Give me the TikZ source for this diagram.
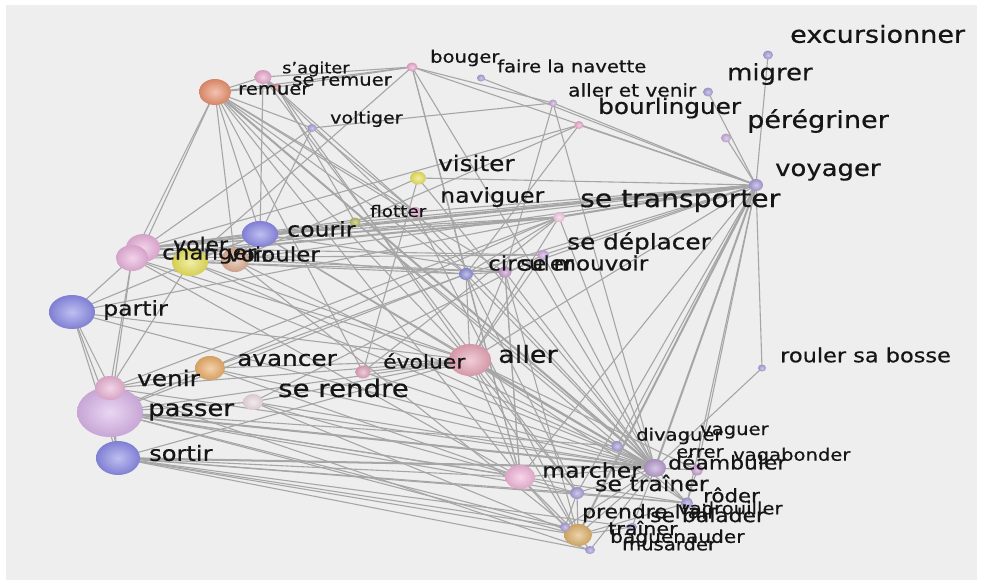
\documentclass[tikz,border=0pt]{standalone}
\usepackage{fontspec}
\setmainfont{DejaVu Sans}[FakeStretch=1.15,FakeBold=0.6]
\usetikzlibrary{shapes.geometric}
\pgfdeclarelayer{bg}
\pgfdeclarelayer{edges}
\pgfsetlayers{bg,edges,main}
\definecolor{bgc}{HTML}{EEEEEE}
\definecolor{edgec}{HTML}{A6A6A6}
\definecolor{txt}{HTML}{151515}
\definecolor{blue}{HTML}{8A8AE6}
\definecolor{lav}{HTML}{D8B4E8}
\definecolor{pinkv}{HTML}{E8B2D4}
\definecolor{orng}{HTML}{E8AC68}
\definecolor{pale}{HTML}{EADADF}
\definecolor{pinke}{HTML}{E0A4BC}
\definecolor{pinka}{HTML}{E6A4B6}
\definecolor{pinkm}{HTML}{F0B4D8}
\definecolor{purp}{HTML}{A89CD6}
\definecolor{hubc}{HTML}{B49ACB}
\definecolor{purpp}{HTML}{C49ACB}
\definecolor{ochre}{HTML}{DCB06A}
\definecolor{salmon}{HTML}{E8906E}
\definecolor{pinks}{HTML}{E8A6CC}
\definecolor{pinkr}{HTML}{D88888}
\definecolor{lilac}{HTML}{C8A8D8}
\definecolor{yell}{HTML}{E6E05A}
\definecolor{olive}{HTML}{B8B860}
\definecolor{pinkc}{HTML}{E8B0DA}
\definecolor{tan}{HTML}{DCAE92}
\definecolor{palepink}{HTML}{F0C8E0}
\definecolor{bluep}{HTML}{8E8ED8}
\tikzset{
  sph/.style n args={3}{ellipse, minimum width=#2pt, minimum height=#3pt, inner sep=0pt, draw=none,
     inner color=#1!55!white, outer color=#1!92!black},
  lbl/.style={anchor=west, inner sep=0pt, text=txt, font=\fontsize{#1}{#1}\selectfont},
  edge/.style={draw=edgec, line width=1.1pt},
  thedge/.style={draw=edgec, line width=2pt},
}
\begin{document}
\begin{tikzpicture}[x=1pt,y=-1pt]
\begin{pgfonlayer}{bg}
\fill[white] (0,0) rectangle (982,584);
\fill[bgc] (6,5) rectangle (977,580);
\end{pgfonlayer}
\useasboundingbox (0,0) rectangle (982,584);
% ---------- spheres ----------
\node[sph={blue}{46}{34}] (partir) at (72,312) {};
\node[sph={lav}{66}{50}] (passer) at (110,412) {};
\node[sph={pinkv}{30}{24}] (venir) at (110,388) {};
\node[sph={blue}{44}{34}] (sortir) at (118,458) {};
\node[sph={orng}{30}{24}] (avancer) at (210,368) {};
\node[sph={pale}{20}{16}] (rendre) at (253,402) {};
\node[sph={pinke}{15}{13}] (evoluer) at (363,372) {};
\node[sph={pinka}{42}{32}] (aller) at (470,360) {};
\node[sph={pinkm}{30}{24}] (marcher) at (520,477) {};
\node[sph={purp}{14}{12}] (trainerse) at (577,493) {};
\node[sph={purp}{12}{10}] (divaguer) at (617,446) {};
\node[sph={hubc}{22}{18}] (hub) at (655,468) {};
\node[sph={purpp}{12}{11}] (errer) at (697,470) {};
\node[sph={purp}{12}{11}] (roder) at (687,503) {};
\node[sph={ochre}{28}{22}] (ochre) at (578,535) {};
\node[sph={purp}{10}{9}] (psm) at (565,527) {};
\node[sph={purp}{10}{8}] (qsm) at (590,550) {};
\node[sph={purp}{10}{8}] (rsm) at (632,527) {};
\node[sph={salmon}{32}{26}] (remuer) at (215,92) {};
\node[sph={pinks}{17}{14}] (agiter) at (263,77) {};
\node[sph={pinkr}{8}{7}] (sremuer) at (277,87) {};
\node[sph={purp}{9}{8}] (voltiger) at (312,128) {};
\node[sph={pinks}{11}{9}] (bouger) at (412,67) {};
\node[sph={purp}{8}{7}] (navette) at (481,78) {};
\node[sph={lilac}{8}{7}] (allerv) at (553,103) {};
\node[sph={pinks}{9}{8}] (bourl) at (579,125) {};
\node[sph={purp}{10}{9}] (excur) at (768,55) {};
\node[sph={purp}{10}{9}] (migrer) at (708,92) {};
\node[sph={lilac}{10}{9}] (pereg) at (726,138) {};
\node[sph={purp}{14}{12}] (voyager) at (756,185) {};
\node[sph={yell}{16}{13}] (visiter) at (418,178) {};
\node[sph={pinks}{12}{10}] (navig) at (415,212) {};
\node[sph={olive}{11}{9}] (flotter) at (355,222) {};
\node[sph={blue}{36}{26}] (courir) at (260,234) {};
\node[sph={pinkc}{34}{28}] (voler) at (143,248) {};
\node[sph={pinkc}{32}{26}] (changer) at (132,258) {};
\node[sph={yell}{36}{28}] (voir) at (190,262) {};
\node[sph={tan}{28}{24}] (rouler) at (235,260) {};
\node[sph={palepink}{12}{10}] (transp) at (559,217) {};
\node[sph={lilac}{12}{10}] (deplacer) at (543,255) {};
\node[sph={bluep}{14}{12}] (circuler) at (466,274) {};
\node[sph={purpp}{13}{11}] (mouvoir) at (505,272) {};
\node[sph={purp}{8}{7}] (bosse) at (762,368) {};
% ---------- edges ----------
\begin{pgfonlayer}{edges}
\foreach \a/\b in {
 partir/passer, partir/venir, partir/sortir, partir/changer, partir/courir, partir/aller, partir/transp, partir/hub,
 passer/venir, passer/sortir, passer/changer, passer/avancer, passer/rendre, passer/aller, passer/hub, passer/marcher,
 passer/ochre, passer/trainerse, passer/circuler, passer/psm, passer/roder,
 venir/sortir, venir/changer, venir/avancer, venir/aller, venir/hub, venir/transp, venir/voir, venir/qsm,
 sortir/hub, sortir/marcher, sortir/ochre, sortir/trainerse, sortir/psm, sortir/roder, sortir/aller, sortir/qsm, sortir/rsm,
 avancer/hub, avancer/aller, avancer/transp, avancer/circuler, avancer/marcher,
 rendre/hub, rendre/aller, rendre/deplacer, rendre/marcher, rendre/ochre,
 evoluer/aller, evoluer/visiter, evoluer/hub, evoluer/transp, evoluer/remuer,
 aller/hub, aller/marcher, aller/trainerse, aller/ochre, aller/transp, aller/deplacer, aller/circuler,
 aller/mouvoir, aller/courir, aller/voir, aller/remuer, aller/voyager, aller/divaguer, aller/errer, aller/roder,
 marcher/hub, marcher/circuler, marcher/mouvoir, marcher/trainerse, marcher/ochre, marcher/psm,
 changer/remuer, voler/remuer, voler/transp, changer/voyager, voler/circuler, changer/hub, changer/aller,
 voler/bourl, voler/voltiger, voler/deplacer, changer/marcher,
 voir/courir, voir/rouler, voir/circuler, voir/hub, voir/mouvoir,
 rouler/courir, rouler/remuer, rouler/hub, rouler/voyager, rouler/mouvoir, rouler/ochre,
 courir/voyager, courir/voltiger, courir/transp, courir/hub, courir/mouvoir, courir/remuer,
 remuer/agiter, remuer/sremuer, remuer/bouger, remuer/voltiger, remuer/circuler, remuer/hub, remuer/mouvoir,
 remuer/navig, remuer/marcher,
 agiter/bouger, agiter/sremuer, agiter/navig, agiter/courir, agiter/circuler, agiter/trainerse,
 sremuer/bouger, sremuer/aller, sremuer/flotter,
 voltiger/allerv, voltiger/navig,
 bouger/allerv, bouger/voyager, bouger/circuler, bouger/marcher, bouger/voir, bouger/hub,
 navette/voyager, allerv/hub, allerv/mouvoir, allerv/voyager,
 bourl/flotter, bourl/voyager, bourl/circuler,
 visiter/rouler, visiter/voyager, visiter/hub,
 navig/voyager, navig/hub, navig/voler, navig/ochre,
 flotter/voyager, flotter/voler, flotter/hub, flotter/roder,
 transp/voyager, transp/hub, transp/voler, transp/circuler,
 deplacer/voyager, deplacer/hub, deplacer/changer,
 circuler/mouvoir, circuler/voyager, circuler/hub, circuler/trainerse,
 mouvoir/voyager, mouvoir/hub, mouvoir/ochre, mouvoir/marcher,
 voyager/excur, voyager/migrer, voyager/pereg, voyager/roder, voyager/errer,
 voyager/trainerse, voyager/bosse, voyager/marcher,
 bosse/hub, divaguer/hub, divaguer/voyager, divaguer/passer,
 hub/errer, hub/roder, hub/ochre, hub/psm, hub/qsm, hub/rsm, hub/trainerse, hub/divaguer,
 trainerse/ochre, trainerse/roder, trainerse/psm, ochre/psm, ochre/qsm, ochre/rsm, ochre/roder, errer/roder}
 \draw[edge] (\a.center) -- (\b.center);
\foreach \a/\b in {voyager/hub, voyager/ochre, aller/hub, passer/hub, sortir/hub, voler/voyager, changer/transp, remuer/hub, transp/voyager}
 \draw[thedge] (\a.center) -- (\b.center);
\end{pgfonlayer}
% ---------- labels ----------
\node[lbl=23.5] (t-excur) at (790,34) {excursionner};
\node[lbl=22.5] (t-migrer) at (727,74) {migrer};
\node[lbl=21.5] (t-bourl) at (598,108) {bourlinguer};
\node[lbl=17.5] (t-allerv) at (568,90) {aller et venir};
\node[lbl=17] (t-navette) at (497,66) {faire la navette};
\node[lbl=17] (t-bouger) at (430,58) {bouger};
\node[lbl=15.5] (t-agiter) at (282,69) {s'agiter};
\node[lbl=17] (t-sremuer) at (292,81) {se remuer};
\node[lbl=17] (t-remuer) at (238,90) {remuer};
\node[lbl=16.5] (t-voltiger) at (330,119) {voltiger};
\node[lbl=23.5] (t-pereg) at (747,121) {pérégriner};
\node[lbl=22.5] (t-voyager) at (775,172) {voyager};
\node[lbl=21.5] (t-visiter) at (438,163) {visiter};
\node[lbl=20.5] (t-navig) at (440,197) {naviguer};
\node[lbl=24.5] (t-transp) at (580,201) {se transporter};
\node[lbl=16] (t-flotter) at (370,211) {flotter};
\node[lbl=20.5] (t-courir) at (287,229) {courir};
\node[lbl=21.5] (t-deplacer) at (567,243) {se déplacer};
\node[lbl=19] (t-voler) at (173,244) {voler};
\node[lbl=20] (t-changer) at (162,254) {changer};
\node[lbl=20] (t-voir) at (227,254) {voir};
\node[lbl=20] (t-rouler) at (252,254) {rouler};
\node[lbl=20] (t-circuler) at (488,263) {circuler};
\node[lbl=20] (t-mouvoir) at (520,263) {se mouvoir};
\node[lbl=20.5] (t-partir) at (103,310) {partir};
\node[lbl=21.5] (t-avancer) at (237,360) {avancer};
\node[lbl=19] (t-evoluer) at (383,361) {évoluer};
\node[lbl=23.5] (t-aller) at (498,354) {aller};
\node[lbl=19.5] (t-bosse) at (780,355) {rouler sa bosse};
\node[lbl=21.5] (t-venir) at (137,378) {venir};
\node[lbl=24] (t-rendre) at (278,388) {se rendre};
\node[lbl=22.5] (t-passer) at (148,412) {passer};
\node[lbl=21] (t-sortir) at (149,453) {sortir};
\node[lbl=17] (t-divaguer) at (636,436) {divaguer};
\node[lbl=17] (t-vaguer) at (700,432) {vaguer};
\node[lbl=17] (t-errer) at (676,453) {errer};
\node[lbl=17] (t-vagab) at (733,456) {vagabonder};
\node[lbl=19] (t-deamb) at (668,462) {déambuler};
\node[lbl=18.5] (t-roder) at (703,495) {rôder};
\node[lbl=17] (t-vadr) at (678,508) {vadrouiller};
\node[lbl=20.5] (t-trainerse) at (595,483) {se traîner};
\node[lbl=20.5] (t-marcher) at (542,470) {marcher};
\node[lbl=19] (t-prendre) at (582,513) {prendre l'air};
\node[lbl=19] (t-balader) at (650,515) {se balader};
\node[lbl=18] (t-trainer) at (608,528) {traîner};
\node[lbl=17.5] (t-bague) at (610,538) {baguenauder};
\node[lbl=17] (t-musarder) at (622,544) {musarder};
\end{tikzpicture}
\end{document}
